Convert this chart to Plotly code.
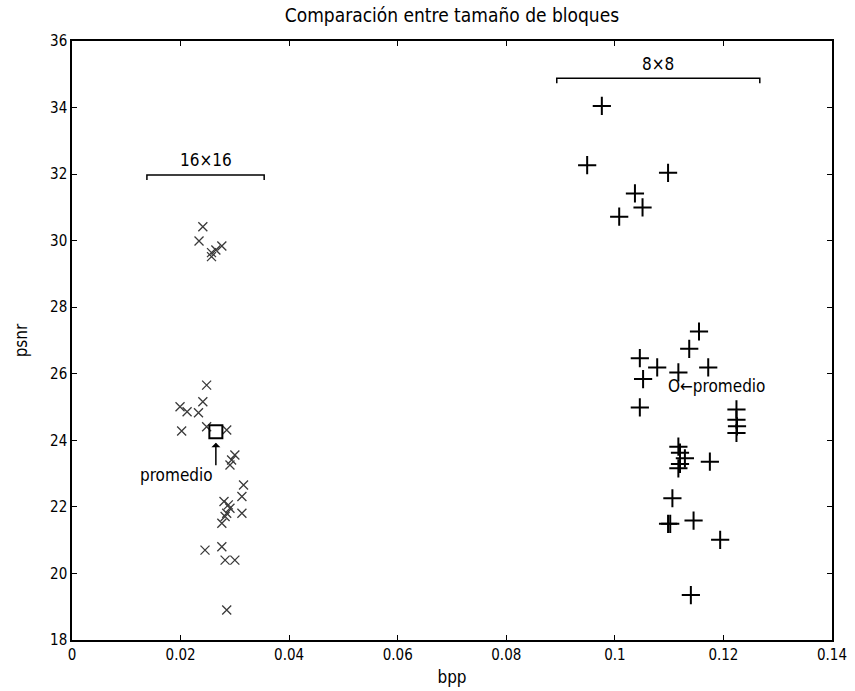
import plotly.graph_objects as go

# 16x16 block results (bpp, psnr)
bpp16 = [0.0241, 0.0234, 0.0276, 0.0257, 0.0257, 0.0265,
         0.0248, 0.0241, 0.0199, 0.0212, 0.0233, 0.0202, 0.0248, 0.0285,
         0.0300, 0.0294, 0.0291, 0.0316, 0.0313, 0.0280, 0.0288, 0.0291,
         0.0313, 0.0285, 0.0282, 0.0276, 0.0245, 0.0276, 0.0282, 0.0300,
         0.0285]
psnr16 = [30.42, 29.99, 29.84, 29.64, 29.52, 29.72,
          25.66, 25.16, 25.01, 24.86, 24.83, 24.28, 24.41, 24.31,
          23.56, 23.41, 23.26, 22.66, 22.31, 22.16, 22.06, 21.96,
          21.81, 21.81, 21.71, 21.51, 20.70, 20.80, 20.40, 20.40,
          18.90]

# 8x8 block results (bpp, psnr)
bpp8 = [0.0976, 0.0949, 0.1098, 0.1037, 0.1051, 0.1008,
        0.1155, 0.1137, 0.1046, 0.1078, 0.1172, 0.1117, 0.1052,
        0.1046, 0.1224, 0.1224, 0.1225, 0.1224,
        0.1117, 0.1120, 0.1129, 0.1120, 0.1117, 0.1175,
        0.1106, 0.1098, 0.1102, 0.1145, 0.1194, 0.1140]
psnr8 = [34.05, 32.27, 32.04, 31.42, 31.00, 30.72,
         27.27, 26.75, 26.47, 26.19, 26.19, 26.04, 25.84,
         24.99, 24.93, 24.62, 24.42, 24.22,
         23.81, 23.63, 23.46, 23.29, 23.16, 23.36,
         22.26, 21.49, 21.49, 21.59, 21.01, 19.35]

# averages
mean16 = (0.0265, 24.26)
mean8_text = (0.1095, 25.63)

# group brackets
bracket16_x = [0.0138, 0.0354]
bracket16_y = 31.97
bracket8_x = [0.0893, 0.1267]
bracket8_y = 34.88

xticks = [0, 0.02, 0.04, 0.06, 0.08, 0.1, 0.12, 0.14]
xticklabels = ["0", "0.02", "0.04", "0.06", "0.08", "0.1", "0.12", "0.14"]
yticks = list(range(18, 37, 2))

FONT = "Liberation Sans Narrow, Arial Narrow, DejaVu Sans Condensed, sans-serif"

fig = go.Figure()

fig.add_trace(go.Scatter(
    x=bpp16, y=psnr16, mode="markers",
    marker=dict(symbol="x-thin", size=9, line=dict(color="#3a3a3a", width=1.3)),
    showlegend=False, hoverinfo="x+y"))

fig.add_trace(go.Scatter(
    x=bpp8, y=psnr8, mode="markers",
    marker=dict(symbol="cross-thin", size=13, line=dict(color="black", width=2)),
    showlegend=False, hoverinfo="x+y"))

fig.add_trace(go.Scatter(
    x=[mean16[0]], y=[mean16[1]], mode="markers",
    marker=dict(symbol="square-open", size=13, color="black", line=dict(color="black", width=2)),
    showlegend=False))

# brackets
def bracket(xs, y):
    return go.Scatter(x=[xs[0], xs[0], xs[1], xs[1]], y=[y - 0.15, y, y, y - 0.15],
                      mode="lines", line=dict(color="black", width=1.5),
                      showlegend=False, hoverinfo="skip")

fig.add_trace(bracket(bracket16_x, bracket16_y))
fig.add_trace(bracket(bracket8_x, bracket8_y))

annots = [
    dict(x=sum(bracket16_x) / 2, y=bracket16_y, text="16×16", showarrow=False,
         yanchor="bottom", yshift=3, font=dict(size=17)),
    dict(x=sum(bracket8_x) / 2, y=bracket8_y, text="8×8", showarrow=False,
         yanchor="bottom", yshift=2, font=dict(size=17)),
    dict(x=mean16[0], y=mean16[1] - 0.33, ax=0, ay=24, text="", showarrow=True,
         arrowhead=1, arrowsize=1, arrowwidth=1.5, arrowcolor="black"),
    dict(x=0.0193, y=22.96, text="promedio", showarrow=False, font=dict(size=17)),
    dict(x=mean8_text[0], y=mean8_text[1], text="O←promedio", showarrow=False,
         xanchor="left", font=dict(size=17)),
]

fig.update_layout(
    width=855, height=691,
    margin=dict(l=72, r=23, t=41, b=51),
    paper_bgcolor="white", plot_bgcolor="white",
    font=dict(family=FONT, size=15, color="black"),
    title=dict(text="Comparación entre tamaño de bloques", x=0.5286, xanchor="center",
               y=0.978, yanchor="middle", font=dict(size=19)),
    annotations=annots,
    xaxis=dict(range=[0, 0.14], tickvals=xticks, ticktext=xticklabels,
               showgrid=False, zeroline=False, showline=True, linecolor="black",
               linewidth=1.5, mirror="ticks", ticks="inside", ticklen=5,
               tickcolor="black", tickfont=dict(size=15), automargin=False,
               title=dict(text="bpp", standoff=8, font=dict(size=17))),
    yaxis=dict(range=[18, 36], tickvals=yticks,
               showgrid=False, zeroline=False, showline=True, linecolor="black",
               linewidth=1.5, mirror="ticks", ticks="inside", ticklen=5,
               tickcolor="black", tickfont=dict(size=15), automargin=False,
               title=dict(text="psnr", standoff=18, font=dict(size=17))),
)

fig.write_html("out.html")
